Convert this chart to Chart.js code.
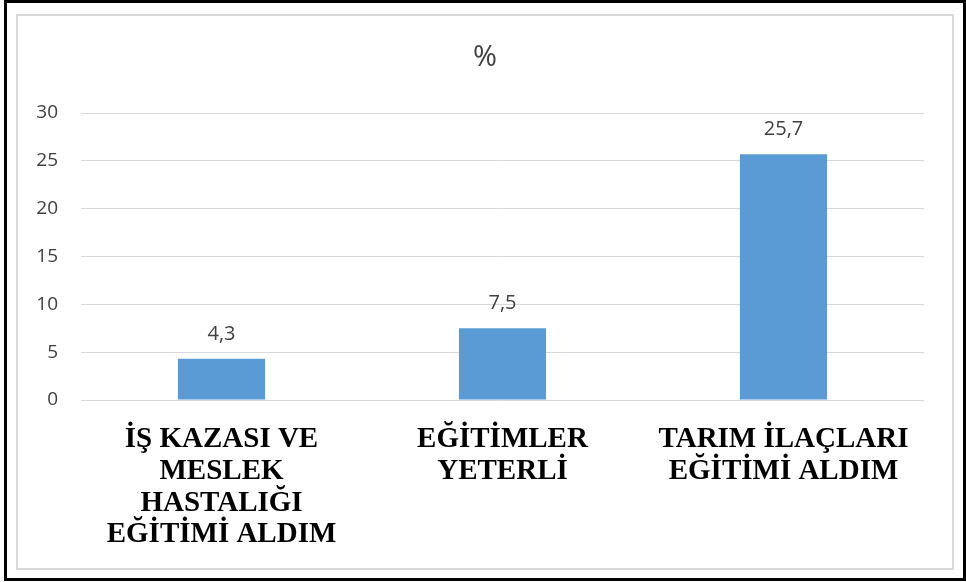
<!DOCTYPE html>
<html>
<head>
<meta charset="utf-8">
<script src="https://cdn.jsdelivr.net/npm/chart.js@4"></script>
<style>
    body { margin: 0; background: #fff; }
    #outer {
        position: absolute; left: 4px; top: 0; width: 962px; height: 581px;
        box-sizing: border-box; border: 3px solid #000;
    }
    #inner {
        position: absolute; left: 16px; top: 14px; width: 938px; height: 556px;
        box-sizing: border-box; border: 2px solid #d9d9d9;
    }
    #wrap { position: absolute; left: 18px; top: 16px; width: 934px; height: 552px; }
</style>
</head>
<body>
<div id="outer"></div>
<div id="inner"></div>
<div id="wrap"><canvas id="chart"></canvas></div>
<script>
    // Chart data
    const chartTitle = '%';
    const categories = [
        ['İŞ KAZASI VE', 'MESLEK', 'HASTALIĞI', 'EĞİTİMİ ALDIM'],
        ['EĞİTİMLER', 'YETERLİ'],
        ['TARIM İLAÇLARI', 'EĞİTİMİ ALDIM']
    ];
    const percentValues = [4.3, 7.5, 25.7];
    const yTicks = [0, 5, 10, 15, 20, 25, 30];

    // Draws the value above each bar (decimal comma) and the title centred on the canvas
    const valueLabels = {
        id: 'valueLabels',
        afterDatasetsDraw(chart) {
            const ctx = chart.ctx;
            const meta = chart.getDatasetMeta(0);
            ctx.save();
            ctx.font = '20px "Open Sans"';
            ctx.fillStyle = '#404040';
            ctx.textAlign = 'center';
            ctx.textBaseline = 'middle';
            meta.data.forEach((bar, i) => {
                const txt = String(percentValues[i]).replace('.', ',');
                ctx.fillText(txt, bar.x, bar.y - 25);
            });
            ctx.font = '29px "Open Sans"';
            ctx.fillText(chartTitle, chart.width / 2, 42);
            ctx.restore();
        }
    };

    const ctx = document.getElementById('chart').getContext('2d');
    new Chart(ctx, {
        type: 'bar',
        data: {
            labels: categories,
            datasets: [{
                label: chartTitle,
                data: percentValues,
                backgroundColor: '#5b9bd5',
                categoryPercentage: 1,
                barPercentage: 0.31
            }]
        },
        options: {
            responsive: true,
            maintainAspectRatio: false,
            animation: false,
            layout: { padding: { left: 0, right: 28, top: 97, bottom: 0 } },
            plugins: {
                legend: { display: false },
                tooltip: { enabled: false },
                title: { display: false }
            },
            scales: {
                x: {
                    grid: { display: false, drawTicks: false },
                    border: { display: false },
                    ticks: {
                        color: '#000',
                        padding: 24,
                        maxRotation: 0,
                        autoSkip: false,
                        font: { family: 'Liberation Serif', size: 29, weight: 'bold', lineHeight: 1.09 }
                    },
                    afterFit(scale) { scale.height = 168; }
                },
                y: {
                    min: 0,
                    max: 30,
                    afterBuildTicks(scale) { scale.ticks = yTicks.map(v => ({ value: v })); },
                    grid: { color: '#d9d9d9', lineWidth: 1, drawTicks: false },
                    border: { display: false },
                    ticks: {
                        color: '#404040',
                        padding: 23,
                        font: { family: 'Open Sans', size: 19 }
                    },
                    afterFit(scale) { scale.width = 63; }
                }
            }
        },
        plugins: [valueLabels]
    });
</script>
</body>
</html>
